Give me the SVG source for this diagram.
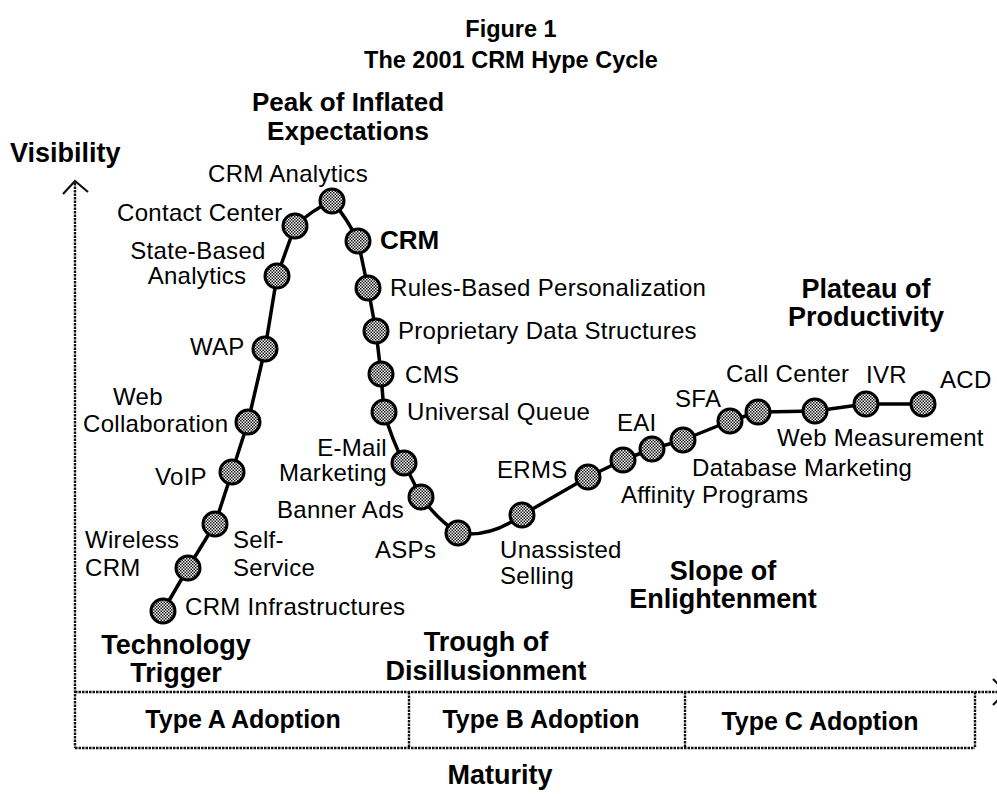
<svg xmlns="http://www.w3.org/2000/svg" width="997" height="794" viewBox="0 0 997 794">
  <defs>
    <!-- fine checker screen used inside the dots -->
    <pattern id="screen" width="3" height="3" patternUnits="userSpaceOnUse">
      <rect width="3" height="3" fill="#ffffff"/>
      <rect width="1.5" height="1.5" fill="#111"/>
      <rect x="1.5" y="1.5" width="1.5" height="1.5" fill="#111"/>
    </pattern>
  </defs>
  <style>
    text { font-family: "Liberation Sans", Arial, sans-serif; fill: #000; }
    .lbl { font-size: 24px; letter-spacing: 0.3px; }
    .hd { font-size: 27px; font-weight: bold; }
    .pk { font-size: 26px; font-weight: bold; }
    .ttl { font-size: 23.5px; font-weight: bold; }
    .typ { font-size: 25px; font-weight: bold; }
    .dot { fill: url(#screen); stroke: #000; stroke-width: 3; }
    .axis { fill: none; stroke: #111; stroke-width: 2.4; stroke-dasharray: 2.5 1; }
    .curve { fill: none; stroke: #000; stroke-width: 3.5; stroke-linejoin: round; stroke-linecap: round; }
  </style>
  <rect width="997" height="794" fill="#ffffff"/>

  <!-- titles -->
  <text class="ttl" x="511" y="37" text-anchor="middle">Figure 1</text>
  <text class="ttl" x="511" y="68" text-anchor="middle">The 2001 CRM Hype Cycle</text>

  <!-- axes and adoption bands -->
  <g id="axes">
    <line class="axis" x1="75" y1="183" x2="75" y2="748"/>
    <polyline fill="none" stroke="#111" stroke-width="2.2" points="63,194 75,181 88,192"/>
    <line class="axis" x1="75" y1="692" x2="997" y2="692"/>
    <polyline fill="none" stroke="#111" stroke-width="2.2" points="993,679 1006,692 993,705"/>
    <line class="axis" x1="75" y1="748" x2="975" y2="748"/>
    <line class="axis" x1="975" y1="692" x2="975" y2="748"/>
    <line class="axis" x1="409" y1="692" x2="409" y2="748"/>
    <line class="axis" x1="685" y1="692" x2="685" y2="748"/>
    <text class="hd" x="10" y="162">Visibility</text>
    <text class="hd" x="500" y="784" text-anchor="middle">Maturity</text>
    <text class="typ" x="243" y="728" text-anchor="middle">Type A Adoption</text>
    <text class="typ" x="541" y="728" text-anchor="middle">Type B Adoption</text>
    <text class="typ" x="820" y="730" text-anchor="middle">Type C Adoption</text>
  </g>

  <!-- phase headings -->
  <g id="phases">
    <text class="pk" x="348" y="111" text-anchor="middle">Peak of Inflated</text>
    <text class="pk" x="348" y="140" text-anchor="middle">Expectations</text>
    <text class="hd" x="176" y="654" text-anchor="middle">Technology</text>
    <text class="hd" x="176" y="682" text-anchor="middle">Trigger</text>
    <text class="hd" x="486" y="651" text-anchor="middle">Trough of</text>
    <text class="hd" x="486" y="680" text-anchor="middle">Disillusionment</text>
    <text class="hd" x="723" y="580" text-anchor="middle">Slope of</text>
    <text class="hd" x="723" y="608" text-anchor="middle">Enlightenment</text>
    <text class="hd" x="866" y="298" text-anchor="middle">Plateau of</text>
    <text class="hd" x="866" y="326" text-anchor="middle">Productivity</text>
  </g>

  <!-- the hype curve -->
  <g id="connectors">
    <path class="curve" d="M163,611 L188,568 L215,524 L232,472 L248,422 L265,349 L277,276 L295,226 Q312,210 332,201 Q347,218 358,241 L368,288 L376,331 L381,374 L384,412 Q392,440 404,463 L421,497 Q438,520 458,533 Q490,538 522,515 L588,477 L623,460 L652,449 L683,440 L730,421 L758,412 L815,411 L866,404 L923,404"/>
  </g>

  <!-- technologies on the curve -->
  <g id="crm-infrastructures"><circle class="dot" cx="163" cy="611" r="12"/><text class="lbl" x="185" y="615">CRM Infrastructures</text></g>
  <g id="wireless-crm"><circle class="dot" cx="188" cy="568" r="12"/><text class="lbl" x="85" y="548">Wireless</text><text class="lbl" x="85" y="576">CRM</text></g>
  <g id="self-service"><circle class="dot" cx="215" cy="524" r="12"/><text class="lbl" x="233" y="548">Self-</text><text class="lbl" x="233" y="576">Service</text></g>
  <g id="voip"><circle class="dot" cx="232" cy="472" r="12"/><text class="lbl" x="155" y="485">VoIP</text></g>
  <g id="web-collaboration"><circle class="dot" cx="248" cy="422" r="12"/><text class="lbl" x="113" y="405">Web</text><text class="lbl" x="83" y="432">Collaboration</text></g>
  <g id="wap"><circle class="dot" cx="265" cy="349" r="12"/><text class="lbl" x="190" y="355">WAP</text></g>
  <g id="state-based-analytics"><circle class="dot" cx="277" cy="276" r="12"/><text class="lbl" x="198" y="259" text-anchor="middle">State-Based</text><text class="lbl" x="197" y="284" text-anchor="middle">Analytics</text></g>
  <g id="contact-center"><circle class="dot" cx="295" cy="226" r="12"/><text class="lbl" x="117" y="221">Contact Center</text></g>
  <g id="crm-analytics"><circle class="dot" cx="332" cy="201" r="12"/><text class="lbl" x="208" y="182">CRM Analytics</text></g>
  <g id="crm"><circle class="dot" cx="358" cy="241" r="12"/><text x="380" y="249" style="font-size:26px;font-weight:bold">CRM</text></g>
  <g id="rules-based-personalization"><circle class="dot" cx="368" cy="288" r="12"/><text class="lbl" x="390" y="296">Rules-Based Personalization</text></g>
  <g id="proprietary-data-structures"><circle class="dot" cx="376" cy="331" r="12"/><text class="lbl" x="398" y="339">Proprietary Data Structures</text></g>
  <g id="cms"><circle class="dot" cx="381" cy="374" r="12"/><text class="lbl" x="405" y="383">CMS</text></g>
  <g id="universal-queue"><circle class="dot" cx="384" cy="412" r="12"/><text class="lbl" x="407" y="420">Universal Queue</text></g>
  <g id="e-mail-marketing"><circle class="dot" cx="404" cy="463" r="12"/><text class="lbl" x="387" y="456" text-anchor="end">E-Mail</text><text class="lbl" x="387" y="481" text-anchor="end">Marketing</text></g>
  <g id="banner-ads"><circle class="dot" cx="421" cy="497" r="12"/><text class="lbl" x="277" y="518">Banner Ads</text></g>
  <g id="asps"><circle class="dot" cx="458" cy="533" r="12"/><text class="lbl" x="375" y="558">ASPs</text></g>
  <g id="unassisted-selling"><circle class="dot" cx="522" cy="515" r="12"/><text class="lbl" x="500" y="558">Unassisted</text><text class="lbl" x="500" y="584">Selling</text></g>
  <g id="erms"><circle class="dot" cx="588" cy="477" r="12"/><text class="lbl" x="497" y="478">ERMS</text></g>
  <g id="affinity-programs"><circle class="dot" cx="623" cy="460" r="12"/><text class="lbl" x="621" y="503">Affinity Programs</text></g>
  <g id="eai"><circle class="dot" cx="652" cy="449" r="12"/><text class="lbl" x="617" y="431">EAI</text></g>
  <g id="database-marketing"><circle class="dot" cx="683" cy="440" r="12"/><text class="lbl" x="692" y="476">Database Marketing</text></g>
  <g id="sfa"><circle class="dot" cx="730" cy="421" r="12"/><text class="lbl" x="675" y="407">SFA</text></g>
  <g id="web-measurement"><circle class="dot" cx="758" cy="412" r="12"/><text class="lbl" x="777" y="446">Web Measurement</text></g>
  <g id="call-center"><circle class="dot" cx="815" cy="411" r="12"/><text class="lbl" x="726" y="382">Call Center</text></g>
  <g id="ivr"><circle class="dot" cx="866" cy="404" r="12"/><text class="lbl" x="866" y="383">IVR</text></g>
  <g id="acd"><circle class="dot" cx="923" cy="404" r="12"/><text class="lbl" x="940" y="388">ACD</text></g>
</svg>
